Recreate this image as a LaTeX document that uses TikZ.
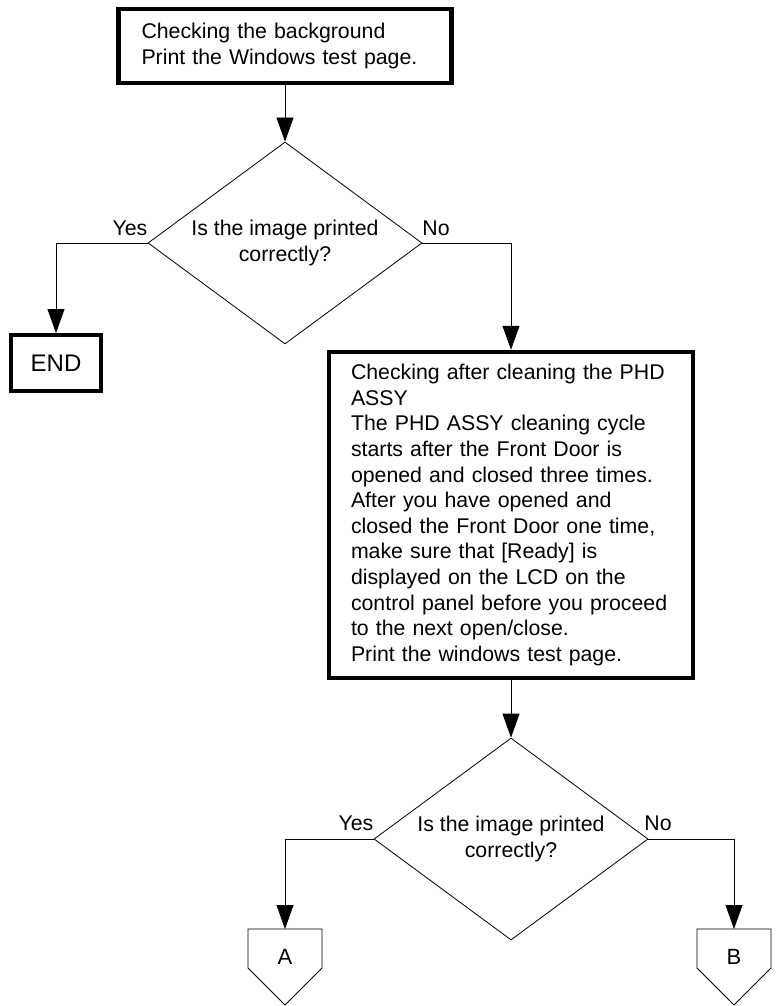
\documentclass[tikz,border=0pt]{standalone}
\usepackage{fontspec}
\setmainfont{Liberation Sans}
\usetikzlibrary{shapes.geometric,arrows.meta}
\begin{document}
\begin{tikzpicture}[x=1pt,y=-1pt,
  every node/.style={font=\fontsize{21.3}{25.6}\selectfont},
  thickbox/.style={draw,line width=4.5pt,rectangle,inner sep=0pt},
  decision/.style={draw,line width=0.8pt,diamond,aspect=1.356,inner sep=0pt,minimum width=274pt,minimum height=202pt,align=center},
  conn/.style={line width=0.8pt},
  arr/.style={conn,-{Triangle[length=24pt,width=17pt]}},
  lbl/.style={inner sep=0pt},
  offpage/.style={line width=0.8pt}
]
\useasboundingbox (0,0) rectangle (778,1006);

\node[thickbox,minimum width=333pt,minimum height=74pt,text width=287pt,align=left] (top) at (285,46)
  {Checking the background\\Print the Windows test page.};

\node[decision] (d1) at (285,243) {Is the image printed\\correctly?};

\node[thickbox,line width=4pt,minimum width=90pt,minimum height=56pt,font=\fontsize{24}{28}\selectfont] (endbox) at (56,363) {END};

\node[thickbox,minimum width=364pt,minimum height=326pt,text width=320pt,align=left] (big) at (511,515)
  {Checking after cleaning the PHD\\ASSY\\The PHD ASSY cleaning cycle\\starts after the Front Door is\\opened and closed three times.\\After you have opened and\\closed the Front Door one time,\\make sure that [Ready] is\\displayed on the LCD on the\\control panel before you proceed\\to the next open/close.\\Print the windows test page.};

\node[decision] (d2) at (511,839) {Is the image printed\\correctly?};

\node[lbl] (yes1) at (130,228) {Yes};
\node[lbl] (no1) at (436,228) {No};
\node[lbl] (yes2) at (356,823) {Yes};
\node[lbl] (no2) at (658,823) {No};

% off-page connectors
\coordinate (Atop) at (285,929);
\coordinate (Btop) at (734,929);
\draw[offpage] (248,929) -- (322,929) -- (322,968) -- (285,1005) -- (248,968) -- cycle;
\draw[offpage] (697,929) -- (771,929) -- (771,968) -- (734,1005) -- (697,968) -- cycle;
\node[lbl,font=\fontsize{22}{26}\selectfont] (A) at (285,957) {A};
\node[lbl,font=\fontsize{22}{26}\selectfont] (B) at (734,957) {B};

\draw[arr] (top.south -| d1.north) -- (d1.north);
\draw[arr] (d1.west) -| (endbox.north);
\draw[arr] (d1.east) -| (big.north);
\draw[arr] (big.south) -- (d2.north);
\draw[arr] (d2.west) -| (Atop);
\draw[arr] (d2.east) -| (Btop);
\end{tikzpicture}
\end{document}
